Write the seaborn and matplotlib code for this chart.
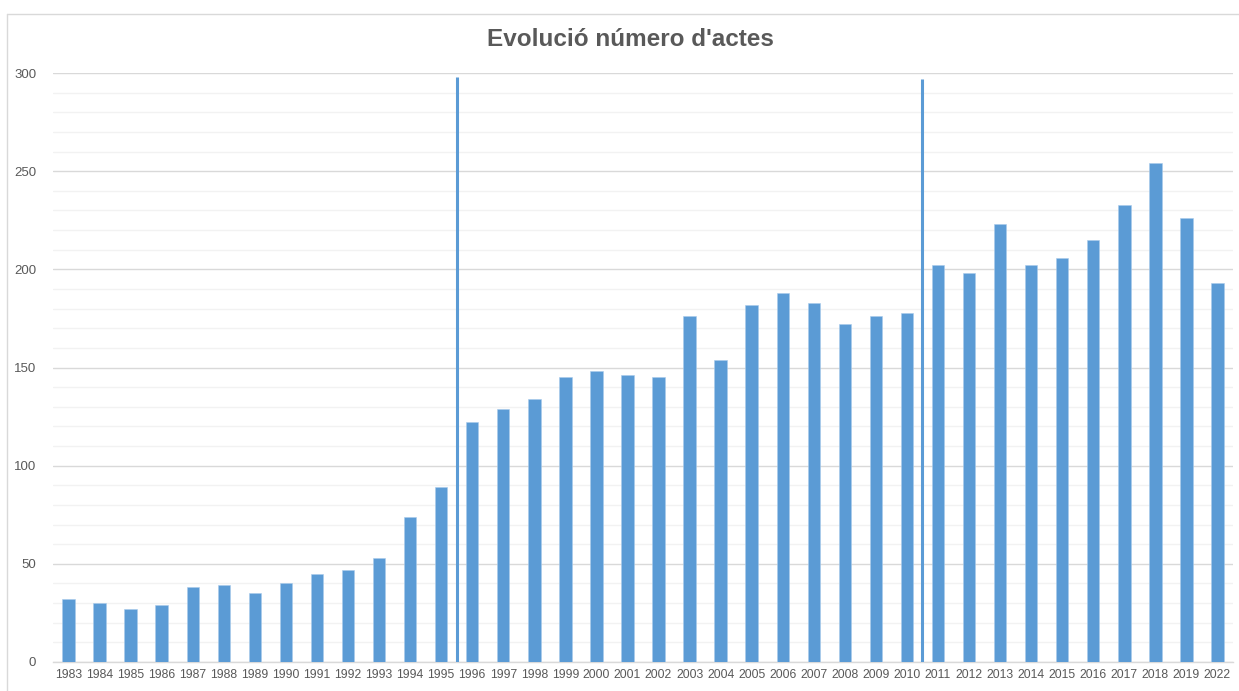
import matplotlib
matplotlib.use("Agg")
import matplotlib.pyplot as plt
import seaborn as sns
import pandas as pd
from matplotlib.lines import Line2D

years = ["1983", "1984", "1985", "1986", "1987", "1988", "1989", "1990", "1991", "1992",
         "1993", "1994", "1995", "1996", "1997", "1998", "1999", "2000", "2001", "2002",
         "2003", "2004", "2005", "2006", "2007", "2008", "2009", "2010", "2011", "2012",
         "2013", "2014", "2015", "2016", "2017", "2018", "2019", "2022"]
actes = [32, 30, 27, 29, 38, 39, 35, 40, 45, 47,
         53, 74, 89, 122, 129, 134, 145, 148, 146, 145,
         176, 154, 182, 188, 183, 172, 176, 178, 202, 198,
         223, 202, 206, 215, 233, 254, 226, 193]
title = "Evolució número d'actes"
y_ticks = [0, 50, 100, 150, 200, 250, 300]
# separator lines between periods (between 1995/1996 and 2010/2011)
separator_after = ["1995", "2010"]
separator_top = [298, 297]

BLUE = "#5B9BD5"
GRAY_TXT = "#595959"

sns.set_theme(style="white")
plt.rcParams['font.family'] = ['Liberation Sans', 'DejaVu Sans']

fig = plt.figure(figsize=(12.39, 6.91), dpi=100)
W, H = 1239, 691
ax = fig.add_axes([53 / W, 1 - 662 / H, (1233 - 53) / W, (662 - 73) / H])

df = pd.DataFrame({"year": years, "actes": actes})
sns.barplot(data=df, x="year", y="actes", color=BLUE, width=0.4, saturation=1,
            edgecolor="#A9CBEB", linewidth=0.4, ax=ax, zorder=3)

ax.set_ylim(0, 300)
ax.set_xlim(-0.5, len(years) - 0.5)
ax.set_yticks(y_ticks)
ax.set_yticks(range(0, 301, 10), minor=True)
ax.grid(axis="y", which="major", color="#D9D9D9", linewidth=1.0, zorder=0)
ax.grid(axis="y", which="minor", color="#F2F2F2", linewidth=1.0, zorder=0)
ax.set_axisbelow(True)
for s in ["top", "right", "left"]:
    ax.spines[s].set_visible(False)
ax.spines["bottom"].set_color("#D9D9D9")
ax.spines["bottom"].set_linewidth(1.0)
ax.tick_params(axis="both", which="both", length=0)
ax.tick_params(axis="y", labelsize=9.5, labelcolor=GRAY_TXT, pad=12)
ax.tick_params(axis="x", labelsize=8.8, labelcolor=GRAY_TXT, pad=5)
ax.set_xlabel("")
ax.set_ylabel("")

for yr, top in zip(separator_after, separator_top):
    xpos = years.index(yr) + 0.5
    ax.vlines(xpos, 0, top, color=BLUE, linewidth=2.2, zorder=4)

fig.text(630 / W, 1 - 40 / H, title, ha="center", va="center",
         fontsize=17.5, fontweight="bold", color=GRAY_TXT)

# chart frame (top and left edges visible in the reference)
top_y = 1 - 14 / H
left_x = 7 / W
fig.lines.append(Line2D([left_x, 1], [top_y, top_y], transform=fig.transFigure,
                        color="#D9D9D9", linewidth=1.0))
fig.lines.append(Line2D([left_x, left_x], [0, top_y], transform=fig.transFigure,
                        color="#D9D9D9", linewidth=1.0))

fig.savefig("out.png", dpi=100, facecolor="white")
